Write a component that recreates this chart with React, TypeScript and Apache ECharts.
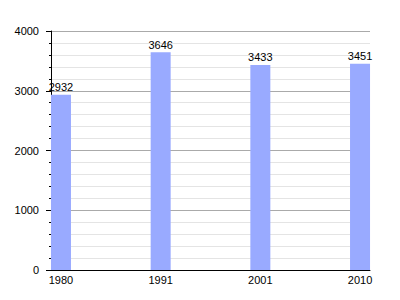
import React, { useEffect, useRef } from "react";
import * as echarts from "echarts";

const years = ["1980", "1991", "2001", "2010"];
const population = [2932, 3646, 3433, 3451];

export default function App() {
  const ref = useRef<HTMLDivElement>(null);
  useEffect(() => {
    const chart = echarts.init(ref.current!, null, { renderer: "svg" });
    const font = "Liberation Sans, Arial, sans-serif";
    chart.setOption({
      animation: false,
      textStyle: { fontFamily: font },
      grid: { left: 51, right: 30, top: 31, bottom: 30, containLabel: false },
      xAxis: {
        type: "value",
        min: -0.1,
        max: 3.1,
        axisLine: { show: true, onZero: false, lineStyle: { color: "#000", width: 1 } },
        axisTick: { show: false },
        splitLine: { show: false },
        axisLabel: {
          color: "#000",
          fontSize: 11,
          fontFamily: font,
          margin: 4,
          showMinLabel: false,
          showMaxLabel: false,
          formatter: (v: number) => {
            const r = Math.round(v);
            if (Math.abs(v - r) < 1e-6 && r >= 0 && r < years.length) return years[r];
            return "";
          },
        },
      },
      yAxis: {
        type: "value",
        min: 0,
        max: 4000,
        interval: 1000,
        axisLine: { show: true, onZero: false, lineStyle: { color: "#000", width: 1 } },
        axisTick: { show: true, length: 5, lineStyle: { color: "#000" } },
        minorTick: { show: true, splitNumber: 5, length: 2, lineStyle: { color: "#000" } },
        splitLine: { show: true, lineStyle: { color: "#aaaaaa", width: 1 } },
        minorSplitLine: { show: true, lineStyle: { color: "#e4e4e4", width: 1 } },
        axisLabel: {
          color: "#000",
          fontSize: 11,
          fontFamily: font,
          margin: 12,
          formatter: (v: number) => String(v),
        },
      },
      series: [
        {
          type: "bar",
          barWidth: 20,
          data: population.map((v, i) => [i, v]),
          itemStyle: { color: "#99aaff" },
          label: {
            show: true,
            position: "top",
            distance: 2,
            color: "#000",
            fontSize: 11,
            fontFamily: font,
            formatter: (p: any) => String(p.value[1]),
          },
        },
      ],
    });
    return () => chart.dispose();
  }, []);
  return <div ref={ref} style={{ width: 400, height: 300, margin: -8 }} />;
}
